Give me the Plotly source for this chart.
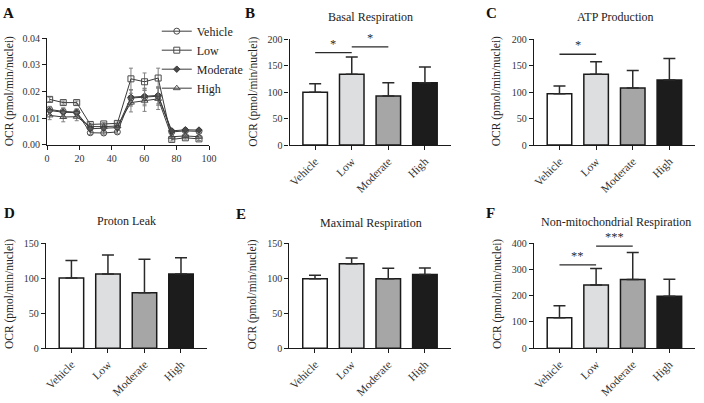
import plotly.graph_objects as go

# ---------------- data ----------------
categories = ["Vehicle", "Low", "Moderate", "High"]
bar_colors = ["#ffffff", "#dddee0", "#a6a6a6", "#1c1c1c"]

time_min = [1.6, 10.0, 18.3, 26.7, 35.0, 43.4, 51.8, 60.2, 68.6, 77.0, 85.4, 93.8]
ocr_vehicle = [0.0132, 0.0125, 0.0122, 0.0045, 0.0044, 0.0048, 0.0175, 0.0178, 0.0182, 0.0048, 0.0052, 0.0050]
ocr_low = [0.0170, 0.0158, 0.0158, 0.0076, 0.0078, 0.0080, 0.0247, 0.0236, 0.0250, 0.0020, 0.0026, 0.0022]
ocr_moderate = [0.0128, 0.0122, 0.0120, 0.0060, 0.0062, 0.0064, 0.0178, 0.0182, 0.0185, 0.0052, 0.0056, 0.0055]
ocr_high = [0.0110, 0.0104, 0.0105, 0.0068, 0.0068, 0.0070, 0.0158, 0.0165, 0.0172, 0.0030, 0.0033, 0.0030]
err_vehicle = [0.0012, 0.0013, 0.0012, 0.0007, 0.0007, 0.0007, 0.0030, 0.0032, 0.0034, 0.0006, 0.0006, 0.0006]
err_low = [0.0008, 0.0006, 0.0006, 0.0005, 0.0005, 0.0005, 0.0040, 0.0033, 0.0037, 0.0006, 0.0005, 0.0006]
err_moderate = [0.0015, 0.0015, 0.0014, 0.0008, 0.0008, 0.0008, 0.0028, 0.0030, 0.0032, 0.0006, 0.0006, 0.0006]
err_high = [0.0016, 0.0018, 0.0015, 0.0008, 0.0008, 0.0008, 0.0035, 0.0040, 0.0040, 0.0007, 0.0006, 0.0006]

basal_mean = [100, 134, 93, 118]
basal_sd = [16, 33, 25, 30]
atp_mean = [97, 134, 108, 123]
atp_sd = [15, 24, 33, 41]
leak_mean = [100, 106, 79, 106]
leak_sd = [25, 27, 48, 23]
maximal_mean = [99, 120.5, 99, 105]
maximal_sd = [5, 8, 15, 9.5]
nonmito_mean = [116, 240, 261, 198]
nonmito_sd = [45, 63, 103, 64]

# significance brackets: (from category, to category, y, label)
sig_basal = [(0, 1, 175, "*"), (1, 2, 186, "*")]
sig_atp = [(0, 1, 172, "*")]
sig_nonmito = [(0, 1, 317, "**"), (1, 2, 388, "***")]

FONT = "Liberation Serif, Times New Roman, serif"
INK = "#1a1a1a"
W, H = 704, 403


def px_x(p):
    return p / W


def px_y(p):
    return 1 - p / H


fig = go.Figure()

# ---------------- panel A ----------------
series = [
    ("Vehicle", ocr_vehicle, err_vehicle, "circle-open", 6),
    ("Low", ocr_low, err_low, "square-open", 6),
    ("Moderate", ocr_moderate, err_moderate, "diamond", 5),
    ("High", ocr_high, err_high, "triangle-up-open", 6),
]
for name, vals, errs, sym, sz in series:
    fig.add_trace(go.Scatter(
        x=time_min, y=vals, name=name, mode="lines+markers",
        xaxis="x", yaxis="y",
        line=dict(color="#3a3a3a", width=1),
        marker=dict(symbol=sym, size=sz, color="#4a4a4a",
                    line=dict(color="#3a3a3a", width=1)),
        error_y=dict(type="data", array=errs, color="#808080", thickness=1, width=2),
        showlegend=True,
    ))

# ---------------- bar panels ----------------
panels = [
    ("x2", "y2", basal_mean, basal_sd, sig_basal),
    ("x3", "y3", atp_mean, atp_sd, sig_atp),
    ("x4", "y4", leak_mean, leak_sd, []),
    ("x5", "y5", maximal_mean, maximal_sd, []),
    ("x6", "y6", nonmito_mean, nonmito_sd, sig_nonmito),
]
shapes = []
annotations = []
for xa, ya, means, sds, sigs in panels:
    fig.add_trace(go.Bar(
        x=list(range(len(categories))), y=means, xaxis=xa, yaxis=ya,
        width=0.67, showlegend=False,
        marker=dict(color=bar_colors, line=dict(color=INK, width=1.5)),
        error_y=dict(type="data", symmetric=False, array=sds,
                     arrayminus=[0] * len(sds), color="#2a2a2a",
                     thickness=1.5, width=6),
    ))
    for a, b, yv, lab in sigs:
        shapes.append(dict(type="line", xref=xa, yref=ya, x0=a, x1=b, y0=yv, y1=yv,
                           line=dict(color="#2a2a2a", width=1.3)))
        annotations.append(dict(xref=xa, yref=ya, x=(a + b) / 2, y=yv, text=lab,
                                showarrow=False, yanchor="bottom", yshift=0,
                                font=dict(family=FONT, size=12.5, color="rgba(34,34,34,0.98)")))

# ---------------- axes ----------------
axis_common = dict(showline=True, linecolor=INK, linewidth=1.3, ticks="outside",
                   ticklen=4, tickwidth=1.2, tickcolor=INK, showgrid=False,
                   zeroline=False, tickfont=dict(family=FONT, size=10, color="#333"))

top_dom = [px_y(143.3), px_y(34.5)]
bot_dom = [px_y(352.7), px_y(244.3)]
layout = dict(
    xaxis=dict(axis_common, domain=[px_x(45.7), px_x(210)], range=[0, 100],
               tickvals=[0, 20, 40, 60, 80, 100], anchor="y"),
    yaxis=dict(axis_common, domain=[px_y(143), px_y(33)], range=[0, 0.04],
               tickvals=[0, 0.01, 0.02, 0.03, 0.04], tickformat=".2f", anchor="x"),
)
bar_axes = [
    ("2", [291.7, 455], top_dom, [0, 200], [0, 50, 100, 150, 200]),
    ("3", [539.5, 703], top_dom, [0, 200], [0, 50, 100, 150, 200]),
    ("4", [44.5, 207.5], bot_dom, [0, 150], [0, 50, 100, 150]),
    ("5", [291.5, 455], bot_dom, [0, 150], [0, 50, 100, 150]),
    ("6", [539.5, 703], bot_dom, [0, 400], [0, 100, 200, 300, 400]),
]
for k, xd, yd, yr, yt in bar_axes:
    layout["xaxis" + k] = dict(axis_common, domain=[px_x(xd[0]), px_x(xd[1])],
                               range=[-0.7, 3.7], tickvals=list(range(len(categories))),
                               ticktext=categories, tickangle=-45, anchor="y" + k,
                               tickfont=dict(family=FONT, size=11.5, color="#333"))
    layout["yaxis" + k] = dict(axis_common, domain=yd, range=yr, tickvals=yt,
                               anchor="x" + k, tickfont=dict(family=FONT, size=10, color="#333"))

# ---------------- text ----------------
letters = [("A", 7, 7), ("B", 252, 7), ("C", 497, 7),
           ("D", 7.5, 213), ("E", 242.5, 214), ("F", 496, 213)]
for t, x, y in letters:
    annotations.append(dict(xref="paper", yref="paper", x=px_x(x), y=px_y(y), text="<b>%s</b>" % t,
                            showarrow=False, xanchor="center", yanchor="middle",
                            font=dict(family=FONT, size=15, color="#111")))
titles = [("Basal Respiration", 374, 11), ("ATP Production", 622.5, 11),
          ("Proton Leak", 126, 222), ("Maximal Respiration", 374, 223.5),
          ("Non-mitochondrial Respiration", 622.5, 223)]
for t, x, y in titles:
    annotations.append(dict(xref="paper", yref="paper", x=px_x(x), y=px_y(y), text=t,
                            showarrow=False, xanchor="center", yanchor="middle",
                            font=dict(family=FONT, size=12, color="#222")))
ytitles = [(7, 88), (255, 88), (502, 88), (7, 297), (254, 297), (502, 297)]
for x, y in ytitles:
    annotations.append(dict(xref="paper", yref="paper", x=px_x(x), y=px_y(y),
                            text="OCR (pmol/min/nuclei)", textangle=-90,
                            showarrow=False, xanchor="center", yanchor="middle",
                            font=dict(family=FONT, size=11.5, color="#222")))

fig.update_layout(
    **layout,
    shapes=shapes,
    annotations=annotations,
    width=W, height=H,
    margin=dict(l=0, r=0, t=0, b=0),
    paper_bgcolor="white", plot_bgcolor="white",
    bargap=0.3,
    legend=dict(x=px_x(157), y=px_y(11), xanchor="left", yanchor="top",
                bgcolor="rgba(0,0,0,0)", font=dict(family=FONT, size=12, color="#222"),
                itemwidth=30, tracegroupgap=0),
    font=dict(family=FONT),
)

fig.write_html("out.html", config={"displayModeBar": False},
               post_script="document.body.style.margin='0';")
